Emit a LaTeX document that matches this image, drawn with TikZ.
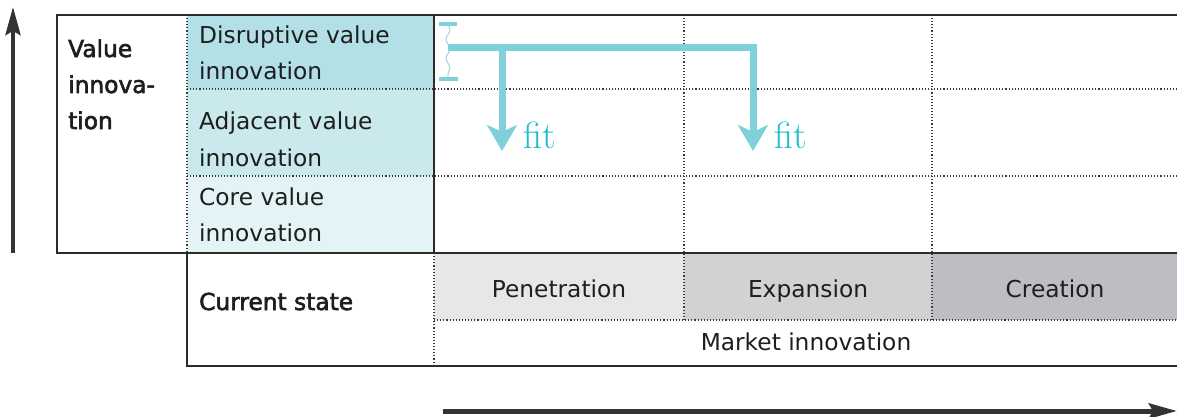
\documentclass[tikz,border=0pt]{standalone}
\usepackage{fontspec}
\setmainfont{DejaVu Sans}
\newfontfamily\medfont{DejaVu Sans}[FakeBold=2.5]
\newfontfamily\slabfont{Latin Modern Roman}
\usetikzlibrary{arrows.meta,decorations.pathmorphing}

\definecolor{rule}{HTML}{2B2B2B}
\definecolor{ink}{HTML}{1E1E1E}
\definecolor{dots}{HTML}{3A3A3A}
\definecolor{disrupt}{HTML}{B3DFE6}
\definecolor{adjac}{HTML}{C9E9ED}
\definecolor{corev}{HTML}{E3F3F6}
\definecolor{penet}{HTML}{E6E7E8}
\definecolor{expan}{HTML}{D1D2D4}
\definecolor{creat}{HTML}{BDBEC1}
\definecolor{fitline}{HTML}{7FD0DA}
\definecolor{fittext}{HTML}{1FBCCB}
\definecolor{axis}{HTML}{333333}

\tikzset{
  solidrule/.style={draw=rule, line width=2.4pt},
  dotrule/.style={draw=dots, line width=1.1pt, dash pattern=on 1.1pt off 2pt},
  body/.style={font=\fontsize{23.3}{36}\selectfont, text=ink, inner sep=0pt},
  cell/.style={body, anchor=base west, align=left},
  header/.style={body, font=\medfont\fontsize{23.3}{36}\selectfont, anchor=base west, align=left},
  centred/.style={body, anchor=base},
  fitpath/.style={draw=fitline, line width=7pt, line join=miter},
  fithead/.style={-{Stealth[length=26pt 0,width=30pt 0,inset=7pt]}},
  fitlabel/.style={font=\slabfont\fontsize{38}{40}\selectfont, text=fittext, inner sep=0pt, anchor=base west},
  axisline/.style={draw=axis, line width=4pt, -{Stealth[length=28pt 0,width=15pt 0,inset=4pt]}},
}

\begin{document}
\begin{tikzpicture}[x=1pt,y=-1pt]
\useasboundingbox (0,0) rectangle (1177,417);

% cell fills
\fill[disrupt] (187,15) rectangle (434,89);
\fill[adjac]   (187,89) rectangle (434,176);
\fill[corev]   (187,176) rectangle (434,253);
\fill[penet]   (434,253) rectangle (684,320);
\fill[expan]   (684,253) rectangle (932,320);
\fill[creat]   (932,253) rectangle (1177,320);

% dotted inner grid
\draw[dotrule] (187,15) -- (187,253);
\draw[dotrule] (187,89) -- (1177,89);
\draw[dotrule] (187,176) -- (1177,176);
\draw[dotrule] (684,15) -- (684,320);
\draw[dotrule] (932,15) -- (932,320);
\draw[dotrule] (434,253) -- (434,366);
\draw[dotrule] (434,320) -- (1177,320);

% solid frame
\draw[solidrule] (1177,15) -- (57,15) -- (57,253) -- (1177,253);
\draw[solidrule] (434,15) -- (434,253);
\draw[solidrule] (187,253) -- (187,366) -- (1177,366);

% row and column labels (multi-line nodes sit on their last baseline)
\node[header] (valinno) at (68,129) {Value\\innova-\\tion};
\node[cell] (disruptive) at (199,80) {Disruptive value\\innovation};
\node[cell] (adjacent) at (199,166) {Adjacent value\\innovation};
\node[cell] (corevalue) at (199,241) {Core value\\innovation};
\node[header] (current) at (199,310) {Current state};
\node[centred] (penetration) at (559,297) {Penetration};
\node[centred] (expansion) at (808,297) {Expansion};
\node[centred] (creation) at (1055,297) {Creation};
\node[centred] (market) at (806,350) {Market innovation};

% range marker inside the top row
\coordinate (rtop) at (448,24);
\coordinate (rbot) at (448,79);
\draw[fitline, line width=4pt] (439,24) -- (457,24);
\draw[fitline, line width=4pt] (439,79) -- (458,79);
\draw[fitline, line width=0.8pt, decorate,
      decoration={snake, amplitude=2pt, segment length=19pt}] (rtop) -- (rbot);

% fit arrows
\coordinate (src) at (448,48);
\coordinate (j1) at (502,48);
\coordinate (j2) at (753,48);
\coordinate (t1) at (502,151);
\coordinate (t2) at (753,151);
\draw[fitpath, fithead] (src) -- (j2) -- (t2);
\draw[fitpath, fithead] (j1) -- (t1);
\node[fitlabel] (fit1) at (523,148) {fit};
\node[fitlabel] (fit2) at (774,148) {fit};

% axes
\coordinate (vbase) at (13,253);
\coordinate (vtip) at (13,7);
\coordinate (hbase) at (443,411);
\coordinate (htip) at (1177,411);
\draw[axisline] (vbase) -- (vtip);
\draw[axisline, line width=5pt] (hbase) -- (htip);
\end{tikzpicture}
\end{document}
